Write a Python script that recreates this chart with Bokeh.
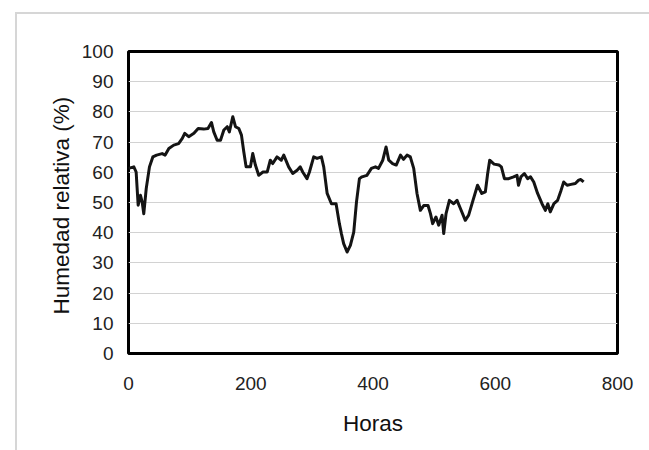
from bokeh.plotting import figure
from bokeh.models import FixedTicker, Range1d
from bokeh.embed import file_html
from bokeh.resources import INLINE

hours = [0, 8.7, 12.5, 15.8, 19.6, 22.3, 25, 29, 34.3, 39.8, 46, 55, 60, 66, 74, 82,
         88, 92, 98.5, 107, 114, 123, 130, 135.7, 139.5, 145, 150.5, 156, 161.5, 165,
         170.6, 175, 180.5, 184.8, 188.6, 192.4, 199.5, 203.3, 207.6, 213, 220, 227,
         232, 236, 243, 250, 254, 262, 268.7, 275.9, 281, 285, 292, 296, 303, 308.5,
         315.6, 319.4, 325, 332, 339.6, 345, 348.3, 352, 357.6, 363, 368.5, 373,
         377.8, 382, 390, 397.4, 404, 409, 416, 421.4, 425.8, 432, 438, 445, 450,
         455.7, 461, 466.6, 472, 477.5, 483, 490, 494, 497.6, 503, 507.5, 513,
         515.7, 519.5, 525, 532, 537.5, 543, 551, 556.5, 563.6, 571, 578, 583.8,
         587.6, 590.9, 598, 606, 610, 615, 622, 630, 635.6, 638, 642, 647.6, 653,
         657.7, 663, 669.3, 676.5, 682, 686, 690, 696, 702, 707.6, 712, 717.6, 724,
         731, 736.5, 740, 744.6]
humidity = [61.3, 61.8, 60.1, 49.1, 52.4, 50.2, 46.3, 54.6, 61.8, 65.1, 65.7, 66.2,
            65.7, 67.9, 69, 69.5, 71.2, 72.9, 71.8, 72.9, 74.5, 74.3, 74.5, 76.5,
            73.4, 70.6, 70.6, 74, 75.1, 73.4, 78.4, 75.1, 74.5, 72.3, 66.8, 61.8,
            61.8, 66.2, 62.4, 59, 60.1, 60.1, 64, 62.9, 65.1, 64, 65.7, 61.8, 59.6,
            60.7, 61.8, 60.1, 57.9, 60.1, 65.1, 64.6, 65.1, 61.8, 53, 49.6, 49.6,
            43, 39.7, 36.4, 33.6, 35.8, 40.2, 50.2, 57.9, 58.5, 59, 61.3, 61.8,
            61.3, 64, 68.4, 64, 62.9, 62.4, 65.7, 64.3, 65.7, 65.1, 61.3, 53, 47.4,
            49, 49, 46.3, 43, 45.2, 42.5, 45.8, 39.7, 46.3, 50.7, 49.6, 50.7, 48,
            44.1, 45.8, 50.7, 55.7, 53, 53.5, 59.6, 64, 62.7, 62.4, 61.8, 57.9,
            57.9, 58.5, 59, 55.7, 58.5, 59.6, 57.9, 58.5, 56.8, 53, 49.6, 47.4,
            49.6, 46.9, 49.6, 50.7, 54, 56.8, 55.7, 56, 56.3, 57.4, 57.6, 56.8]

x_ticks = [0, 200, 400, 600, 800]
y_ticks = [0, 10, 20, 30, 40, 50, 60, 70, 80, 90, 100]
x_title = "Horas"
y_title = "Humedad relativa  (%)"

FONT = "Liberation Sans"

p = figure(width=632, height=436, output_backend="svg", toolbar_location=None,
           x_range=Range1d(0, 800), y_range=Range1d(0, 100),
           frame_width=489, frame_height=302,
           min_border_left=111, min_border_top=37, min_border_right=32,
           min_border_bottom=97, margin=(12, 0, 0, 15))
p.styles = {"border-top": "2px solid #d6d6d6", "border-left": "2px solid #d6d6d6"}

p.line(hours, humidity, line_color="#141414", line_width=3, line_join="round")

p.outline_line_color = "black"
p.outline_line_width = 3

p.xgrid.visible = False
p.ygrid.grid_line_color = "#d2d2d2"
p.ygrid.grid_line_width = 1

p.xaxis.ticker = FixedTicker(ticks=x_ticks)
p.yaxis.ticker = FixedTicker(ticks=y_ticks)

for ax in (p.xaxis, p.yaxis):
    ax.axis_line_color = None
    ax.major_tick_line_color = None
    ax.minor_tick_line_color = None
    ax.major_tick_out = 0
    ax.major_tick_in = 0
    ax.major_label_text_font = FONT
    ax.major_label_text_font_size = "19px"
    ax.major_label_text_color = "#222222"
    ax.axis_label_text_font = FONT
    ax.axis_label_text_font_size = "22.5px"
    ax.axis_label_text_font_style = "normal"
    ax.axis_label_text_color = "#111111"

p.xaxis.axis_label = x_title
p.yaxis.axis_label = y_title
p.xaxis.major_label_standoff = 23
p.yaxis.major_label_standoff = 15
p.xaxis.axis_label_standoff = 18
p.yaxis.axis_label_standoff = 5

open("out.html", "w").write(file_html(p, INLINE))
